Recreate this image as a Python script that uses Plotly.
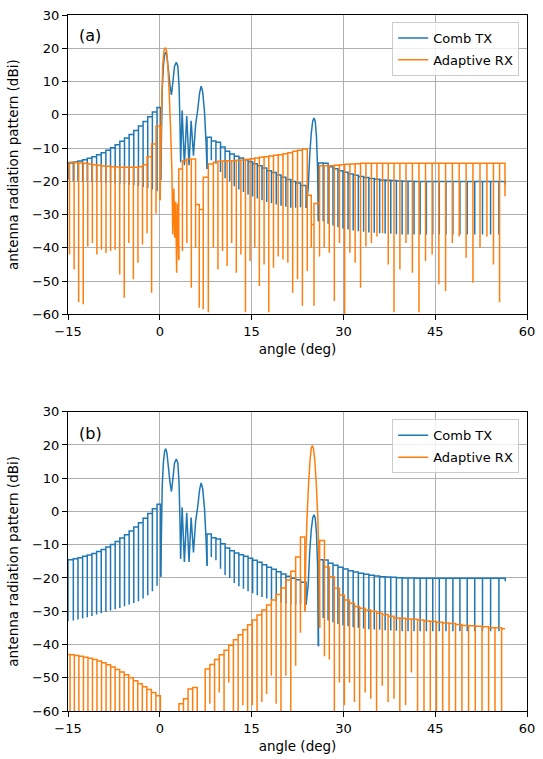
import plotly.graph_objects as go

BLUE = '#1f77b4'
ORANGE = '#ff7f0e'
FONT = 'DejaVu Sans'

X_TICKS = [-15, 0, 15, 30, 45, 60]
X_TICK_TEXT = ['\u221215', '0', '15', '30', '45', '60']
Y_TICKS = [-60, -50, -40, -30, -20, -10, 0, 10, 20, 30]
Y_TICK_TEXT = ['\u221260', '\u221250', '\u221240', '\u221230', '\u221220', '\u221210', '0', '10', '20', '30']

# ---------------- Comb TX (blue) ----------------
# sidelobe region left of the main beams: null angles, null levels, lobe peak levels
TX_L_NULL_ANG = [-15.0, -14.13, -13.37, -12.61, -11.85, -11.09, -10.33, -9.57, -8.81, -8.05, -7.29,
                 -6.53, -5.77, -5.01, -4.25, -3.49, -2.73, -1.97, -1.21, -0.45, 0.15]
TX_L_NULL_DB_A = [-19.5, -20.0, -20.0, -20.2, -20.2, -20.3, -20.3, -20.4, -20.5, -20.5, -20.6,
                  -20.7, -20.8, -21.0, -21.2, -21.4, -21.7, -22.0, -22.5, -23.0, -19.6]
TX_L_NULL_DB_B = [-33.0, -32.8, -32.5, -32.2, -31.8, -31.4, -31.0, -30.6, -30.2, -29.8, -29.4,
                  -29.0, -28.5, -28.0, -27.5, -27.0, -26.2, -25.2, -24.0, -22.3, -19.6]
TX_L_PEAK_DB = [-14.5, -14.2, -13.9, -13.5, -13.1, -12.6, -12.0, -11.4, -10.7, -9.9,
                -9.0, -8.0, -7.0, -5.9, -4.7, -3.4, -2.0, -0.6, 0.8, 2.2]
# main beams around 1, 2.7 and 6.7 deg
TX_MAIN_ANG = [0.15, 0.4, 0.6, 0.78, 0.96, 1.15, 1.4, 1.65, 1.9, 2.15, 2.4, 2.7, 2.95, 3.15, 3.3, 3.4,
               3.65, 4.02, 4.4, 4.78, 5.12, 5.5, 5.85, 6.2, 6.5, 6.75, 7.0, 7.3, 7.55, 7.72]
TX_MAIN_DB = [-19.6, 8.0, 15.0, 18.0, 18.9, 17.8, 13.5, 9.0, 6.0, 10.0, 14.5, 15.8, 14.6, 8.5, -3.0, -14.3,
              1.3, -15.2, -0.4, -15.2, -1.8, -12.3, -3.0, 1.5, 6.5, 8.6, 7.0, 1.0, -8.0, -16.3]
# sidelobes between 7.7 and 24 deg
TX_M_NULL_ANG = [7.72, 8.42, 9.17, 9.92, 10.67, 11.42, 12.17, 12.92, 13.67, 14.42, 15.17, 15.93,
                 16.7, 17.47, 18.25, 19.03, 19.81, 20.6, 21.4, 22.2, 23.0, 23.9]
TX_M_NULL_DB = [-16.3, -13.7, -14.7, -17.2, -19.1, -20.0, -21.5, -22.5, -23.2, -24.0, -24.6, -25.2,
                -25.7, -26.2, -26.6, -27.0, -27.4, -27.7, -28.0, -28.0, -27.8, -28.0]
TX_M_PEAK_DB = [-6.8, -7.9, -8.3, -9.7, -11.0, -11.8, -12.5, -13.0, -13.5, -14.1, -14.7, -15.3,
                -16.0, -16.8, -17.4, -18.1, -18.8, -19.5, -20.1, -20.5, -21.3]
# beam at 25 deg
TX_BIG_ANG = [23.9, 24.25, 24.5, 24.75, 25.0, 25.2, 25.4, 25.6, 25.78, 25.92]
TX_BIG_DB = [-28.0, -22.0, -12.0, -5.5, -1.8, -1.0, -2.0, -6.5, -16.0]
TX_DIP_DB_A = [-32.0]
TX_DIP_DB_B = [-40.5]
# sidelobes right of 26 deg
TX_R_NULL_ANG = [25.92, 26.7, 27.5, 28.3, 29.11, 29.93, 30.76, 31.6, 32.44, 33.3, 34.16, 35.04, 35.92,
                 36.82, 37.74, 38.66, 39.6, 40.56, 41.54, 42.54, 43.56, 44.6, 45.67, 46.76, 47.89,
                 49.04, 50.23, 51.46, 52.73, 54.05, 55.41, 56.45]
TX_R_NULL_DB = [-32.0, -32.8, -33.3, -33.8, -34.2, -34.5, -34.8, -35.0, -35.2, -35.4, -35.5, -35.6,
                -35.7, -35.8, -35.9, -36.0, -36.0, -36.0, -36.0, -36.0, -36.0, -36.0, -36.0, -36.0,
                -36.0, -36.0, -36.0, -36.0, -36.0, -36.0, -21.0]
TX_R_PEAK_DB = [-14.5, -14.6, -15.6, -16.2, -16.8, -17.3, -17.8, -18.2, -18.6, -18.9, -19.2, -19.4,
                -19.6, -19.7, -19.8, -19.9, -20.0, -20.0, -20.1, -20.1, -20.1, -20.1, -20.1, -20.1,
                -20.1, -20.1, -20.1, -20.1, -20.1, -20.1, -20.1]

# ---------------- Adaptive RX, panel (a) ----------------
RXA_L_NULL_ANG = [-15.0, -14.75, -14.0, -13.26, -12.51, -11.77, -11.02, -10.28, -9.53, -8.79, -8.04,
                  -7.3, -6.55, -5.81, -5.06, -4.32, -3.57, -2.83, -2.08, -1.34, -0.62, 0.05]
RXA_L_NULL_DB = [-15.5, -42.0, -46.5, -56.4, -57.0, -39.6, -38.6, -42.0, -40.6, -41.6, -41.0,
                 -40.6, -48.0, -55.0, -38.6, -49.5, -44.5, -39.0, -35.6, -53.5, -29.7, -25.7]
RXA_L_PEAK_DB = [-15.3, -14.3, -14.4, -14.5, -14.6, -14.8, -15.0, -15.2, -15.4, -15.5, -15.6,
                 -15.7, -15.8, -15.8, -15.8, -15.8, -15.6, -15.0, -12.6, -8.8, -3.4]
RXA_MAIN_ANG = [0.05, 0.27, 0.48, 0.7, 0.91, 1.13, 1.34, 1.55, 1.77, 1.98, 2.12, 2.3, 2.45, 2.6,
                2.75, 2.9, 3.1]
RXA_MAIN_DB = [-25.7, 0.0, 15.0, 19.4, 20.2, 19.0, 14.0, 6.0, -4.9, -16.8, -36.0, -22.2, -37.0, -26.2,
               -47.5, -26.7, -43.6]
RXA_M_NULL_ANG = [3.1, 3.7, 4.42, 5.15, 5.85, 6.45, 7.1, 7.93, 8.75, 9.5, 10.25, 11.0, 11.75, 12.5,
                  13.25, 14.0, 14.75, 15.51, 16.27, 17.04, 17.81, 18.58, 19.35, 20.13, 20.92, 21.71,
                  22.5, 23.3, 24.1, 24.75, 25.2]
RXA_M_NULL_DB = [-43.6, -41.0, -38.6, -52.0, -40.0, -58.0, -58.5, -59.4, -40.0, -46.5, -41.0, -45.5,
                 -38.6, -47.5, -42.0, -59.4, -44.0, -40.0, -51.5, -45.0, -59.4, -46.0, -42.6, -43.5,
                 -44.5, -53.5, -49.5, -57.4, -47.0, -40.0, -57.4]
RXA_M_PEAK_DB = [-16.3, -13.8, -13.3, -13.3, -27.0, -28.5, -18.8, -14.8, -14.3, -14.0, -13.9, -13.8,
                 -13.8, -13.7, -13.6, -13.4, -13.2, -13.0, -12.8, -12.6, -12.4, -12.2, -12.0, -11.7,
                 -11.4, -11.0, -10.7, -10.3, -24.2, -33.0, -26.7]
RXA_R_NULL_ANG = [26.1, 26.86, 27.69, 28.52, 29.36, 30.2, 31.06, 31.92, 32.8, 33.68, 34.58, 35.48,
                  36.4, 37.33, 38.27, 39.23, 40.23, 41.27, 42.35, 43.42, 44.5, 45.6, 46.7, 47.8,
                  48.92, 50.05, 51.17, 52.32, 53.45, 54.52, 55.52, 56.4]
RXA_R_NULL_DB = [-42.6, -40.0, -41.5, -56.0, -38.6, -61.0, -41.5, -44.5, -52.0, -39.6, -38.6, -36.6,
                 -35.6, -45.0, -59.4, -46.5, -38.6, -47.5, -59.4, -44.0, -42.0, -51.0, -53.0, -38.6,
                 -36.6, -43.0, -50.5, -40.0, -36.6, -45.0, -56.4, -24.5]
RXA_R_PEAK_DB = [-15.3, -15.3, -15.3, -15.2, -15.0, -14.9, -14.8, -14.7, -14.6, -14.6, -14.6, -14.6,
                 -14.6, -14.6, -14.6, -14.6, -14.6, -14.6, -14.6, -14.6, -14.6, -14.6, -14.6, -14.6,
                 -14.6, -14.6, -14.6, -14.6, -14.6, -14.6, -14.6]

# ---------------- Adaptive RX, panel (b) ----------------
BELOW = -80.0  # levels under the -60 dB floor of the axes
RXB_L_NULL_ANG = [-15.0, -14.67, -13.96, -13.22, -12.48, -11.74, -11.0, -10.26, -9.52, -8.78, -8.04,
                  -7.3, -6.56, -5.82, -5.08, -4.34, -3.6, -2.86, -2.12, -1.38, -0.64, 0.1, 3.13,
                  3.87, 4.62, 5.37, 6.12, 7.42, 8.18, 8.95, 9.72, 10.5, 11.26, 12.03, 12.8, 13.57,
                  14.35, 15.12, 15.89, 16.67, 17.45, 18.23, 19.01, 19.8, 20.6, 21.4, 22.2, 22.98, 23.7]
RXB_L_NULL_DB = [-43.0, BELOW, BELOW, BELOW, BELOW, BELOW, BELOW, BELOW, BELOW, BELOW, BELOW,
                 BELOW, BELOW, BELOW, BELOW, BELOW, BELOW, BELOW, BELOW, BELOW, BELOW, BELOW, BELOW,
                 BELOW, BELOW, BELOW, BELOW, BELOW, -57.8, BELOW, -54.4, BELOW, -51.4, BELOW, BELOW, -58.3,
                 BELOW, -58.3, BELOW, -57.3, -54.9, -49.4, -57.8, BELOW, -49.4, BELOW, -46.4, -36.5, -30.0]
RXB_L_PEAK_DB = [-43.0, -43.1, -43.3, -43.5, -43.8, -44.1, -44.5, -45.0, -45.5, -46.1, -46.8,
                 -47.5, -48.3, -49.1, -50.0, -50.9, -51.8, -52.7, -53.5, -54.4, -55.4, BELOW,
                 -57.8, -56.3, -53.4, -52.9, BELOW, -47.4, -46.0, -44.5, -43.1, -41.7, -40.2, -38.6,
                 -37.1, -35.6, -34.1, -32.6, -31.1, -29.6, -28.1, -26.6, -25.0, -23.0, -20.6, -18.0,
                 -13.7, -7.7]
RXB_MAIN_ANG = [23.7, 23.85, 24.05, 24.3, 24.55, 24.75, 24.92, 25.1, 25.3, 25.55, 25.8, 26.0, 26.12]
RXB_MAIN_DB = [-30.0, -14.0, -2.0, 8.0, 15.5, 19.0, 19.8, 19.0, 16.0, 9.0, -1.0, -14.0, -35.0]
RXB_R_NULL_ANG = [26.12, 26.9, 27.7, 28.52, 29.35, 30.17, 31.0, 31.8, 32.65, 33.55, 34.47, 35.42,
                  36.35, 37.3, 38.27, 39.22, 40.17, 41.12, 42.12, 43.17, 44.2, 45.2, 46.22, 47.27,
                  48.32, 49.37, 50.45, 51.55, 52.65, 53.72, 54.77, 55.85, 56.4]
RXB_R_NULL_DB = [-35.0, -43.5, -44.5, -62.0, -51.4, -58.3, -51.4, -57.3, BELOW, -54.4, -56.3, BELOW,
                 -52.4, -57.3, -56.3, BELOW, -58.3, -48.4, BELOW, BELOW, BELOW, BELOW, BELOW, BELOW,
                 BELOW, BELOW, BELOW, BELOW, BELOW, BELOW, BELOW, BELOW, -35.3]
RXB_R_PEAK_DB = [-8.7, -16.7, -19.6, -23.1, -25.1, -26.6, -27.6, -28.6, -29.1, -29.6, -30.0, -30.6,
                 -31.0, -31.5, -32.0, -32.1, -32.3, -32.4, -32.6, -32.9, -33.1, -33.3, -33.5, -33.7,
                 -34.0, -34.3, -34.4, -34.5, -34.7, -35.0, -35.0, -35.3]


def comb(null_ang, null_db, peak_db):
    """Lobe train: each lobe spans from one null to the next at its peak level."""
    assert len(null_ang) == len(null_db) == len(peak_db) + 1, (len(null_ang), len(null_db), len(peak_db))
    xs, ys = [], []
    for i, pk in enumerate(peak_db):
        xs += [null_ang[i], null_ang[i]]
        ys += [null_db[i], pk]
    xs.append(null_ang[-1])
    ys.append(null_db[-1])
    return xs, ys


fig = go.Figure()


def add(x, y, color, name, show, panel, shape):
    xa, ya, leg = ('x', 'y', 'legend') if panel == 'a' else ('x2', 'y2', 'legend2')
    assert len(x) == len(y), (name, len(x), len(y))
    fig.add_trace(go.Scatter(
        x=x, y=y, mode='lines', name=name, showlegend=show,
        legendgroup=name + panel, legend=leg, xaxis=xa, yaxis=ya,
        line=dict(color=color, width=1.5, shape=shape, simplify=False),
        hoverinfo='skip'))


for panel, l_null_db, dip in (('a', TX_L_NULL_DB_A, TX_DIP_DB_A), ('b', TX_L_NULL_DB_B, TX_DIP_DB_B)):
    x, y = comb(TX_L_NULL_ANG, l_null_db, TX_L_PEAK_DB)
    add(x, y, BLUE, 'Comb TX', True, panel, 'hv')
    add(TX_MAIN_ANG, TX_MAIN_DB, BLUE, 'Comb TX', False, panel, 'linear')
    x, y = comb(TX_M_NULL_ANG, TX_M_NULL_DB, TX_M_PEAK_DB)
    add(x, y, BLUE, 'Comb TX', False, panel, 'hv')
    add(TX_BIG_ANG, TX_BIG_DB + dip, BLUE, 'Comb TX', False, panel, 'linear')
    x, y = comb(TX_R_NULL_ANG, dip + TX_R_NULL_DB, TX_R_PEAK_DB)
    add(x, y, BLUE, 'Comb TX', False, panel, 'hv')

# Adaptive RX (a)
x, y = comb(RXA_L_NULL_ANG, RXA_L_NULL_DB, RXA_L_PEAK_DB)
add(x, y, ORANGE, 'Adaptive RX', True, 'a', 'hv')
add(RXA_MAIN_ANG, RXA_MAIN_DB, ORANGE, 'Adaptive RX', False, 'a', 'linear')
x, y = comb(RXA_M_NULL_ANG + RXA_R_NULL_ANG, RXA_M_NULL_DB + RXA_R_NULL_DB, RXA_M_PEAK_DB + RXA_R_PEAK_DB)
add(x, y, ORANGE, 'Adaptive RX', False, 'a', 'hv')

# Adaptive RX (b)
x, y = comb(RXB_L_NULL_ANG, RXB_L_NULL_DB, RXB_L_PEAK_DB)
add(x, y, ORANGE, 'Adaptive RX', True, 'b', 'hv')
add(RXB_MAIN_ANG, RXB_MAIN_DB, ORANGE, 'Adaptive RX', False, 'b', 'linear')
x, y = comb(RXB_R_NULL_ANG, RXB_R_NULL_DB, RXB_R_PEAK_DB)
add(x, y, ORANGE, 'Adaptive RX', False, 'b', 'hv')

axis_common = dict(
    showgrid=True, gridcolor='#b0b0b0', gridwidth=1,
    showline=True, linecolor='black', linewidth=1, mirror=True,
    ticks='outside', ticklen=5, tickwidth=1, tickcolor='black',
    zeroline=False, tickfont=dict(family=FONT, size=13, color='black'))

title_font = dict(family=FONT, size=13.5, color='black')

xa = dict(axis_common, range=[-15, 60], tickvals=X_TICKS, ticktext=X_TICK_TEXT,
          title=dict(text='angle (deg)', font=title_font, standoff=6))
ya = dict(axis_common, range=[-60, 30], tickvals=Y_TICKS, ticktext=Y_TICK_TEXT,
          title=dict(text='antenna radiation pattern (dBi)', font=title_font, standoff=10))

legend_common = dict(
    xanchor='right', yanchor='top', x=0.983,
    bgcolor='rgba(255,255,255,0.8)', bordercolor='#cccccc', borderwidth=1,
    font=dict(family=FONT, size=13, color='black'), tracegroupgap=2)

fig.update_layout(
    width=543, height=759,
    margin=dict(l=68, r=8, t=10, b=46),
    paper_bgcolor='white', plot_bgcolor='white',
    font=dict(family=FONT, size=13, color='black'),
    xaxis=dict(xa, domain=[0, 1], anchor='y'),
    yaxis=dict(ya, domain=[0.57, 1.0], anchor='x'),
    xaxis2=dict(xa, domain=[0, 1], anchor='y2'),
    yaxis2=dict(ya, domain=[0.0, 0.43], anchor='x2'),
    legend=dict(legend_common, y=0.99),
    legend2=dict(legend_common, y=0.419),
    annotations=[
        dict(text='(a)', xref='x domain', yref='y domain', x=0.02, y=0.932,
             xanchor='left', yanchor='middle', showarrow=False,
             font=dict(family=FONT, size=16, color='black')),
        dict(text='(b)', xref='x2 domain', yref='y2 domain', x=0.02, y=0.926,
             xanchor='left', yanchor='middle', showarrow=False,
             font=dict(family=FONT, size=16, color='black')),
    ],
)

fig.write_html('out.html')
